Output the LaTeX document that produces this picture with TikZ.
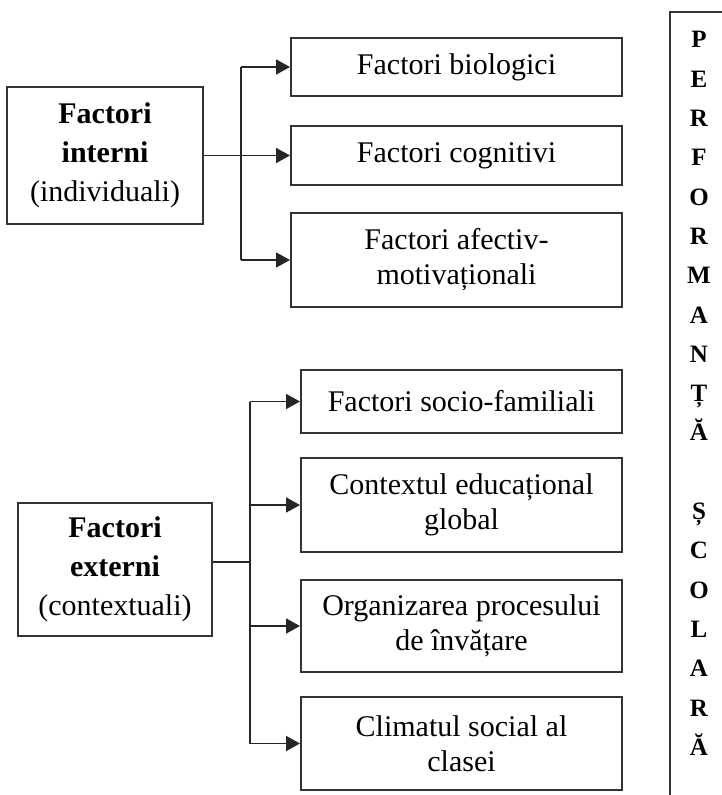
\documentclass[tikz,border=0pt]{standalone}
\usepackage{fontspec}
\setmainfont{Liberation Serif}
\usetikzlibrary{arrows.meta}
\begin{document}
\begin{tikzpicture}[x=1pt,y=-1pt,
  frame/.style={draw=black!80, line width=2pt, inner sep=0pt, align=center,
    font=\fontsize{30}{35}\selectfont},
  mainbox/.style={frame, font=\fontsize{30}{39}\selectfont},
  link/.style={draw=black!85, line width=1.8pt},
  arrowlink/.style={link, -{Triangle[length=14pt,width=15pt]}}
]
\clip (0,0) rectangle (722,795);
\fill[white] (0,0) rectangle (722,795);

% internal factors
\node[mainbox, minimum width=196pt, minimum height=137pt] (intern) at (105,155.5)
  {\textbf{Factori}\\\textbf{interni}\\(individuali)};
\node[frame, minimum width=331pt, minimum height=58pt] (b1) at (456.5,67) {Factori biologici};
\node[frame, minimum width=331pt, minimum height=59pt] (b2) at (456.5,155.5) {Factori cognitivi};
\node[frame, minimum width=331pt, minimum height=94pt] (b3) at (456.5,260) {Factori afectiv-\\motivaționali};

% external factors
\node[mainbox, minimum width=194pt, minimum height=133pt] (extern) at (115,569.5)
  {\textbf{Factori}\\\textbf{externi}\\(contextuali)};
\node[frame, minimum width=321pt, minimum height=63pt] (c1) at (461.5,401.5) {Factori socio-familiali};
\node[frame, minimum width=321pt, minimum height=94pt] (c2) at (461.5,505) {Contextul educațional\\global};
\node[frame, minimum width=321pt, minimum height=92pt] (c3) at (461.5,626) {Organizarea procesului\\de învățare};
\node[frame, minimum width=321pt, minimum height=93pt] (c4) at (461.5,743.5) {Climatul social al\\clasei};

% outcome column
\node[draw=black!80, line width=2pt, anchor=north west, minimum width=120pt,
  minimum height=820pt, inner sep=0pt] (perfbox) at (669,11) {};
\node[align=center, inner sep=0pt, font=\bfseries\fontsize{25}{39.3}\selectfont] (perf) at (699,393.5)
  {P\\E\\R\\F\\O\\R\\M\\A\\N\\Ț\\Ă\\\mbox{}\\Ș\\C\\O\\L\\A\\R\\Ă};

% branching connectors
\coordinate (ti) at (241,0);
\coordinate (te) at (250,0);
\draw[arrowlink] (intern.east) -- (b2.west);
\draw[link] (b1.west -| ti) -- (b3.west -| ti);
\draw[arrowlink] (b1.west -| ti) -- (b1.west);
\draw[arrowlink] (b3.west -| ti) -- (b3.west);

\draw[link] ([yshift=7.5pt]extern.east) -- ([yshift=7.5pt]extern.east -| te);
\draw[link] (c1.west -| te) -- (c4.west -| te);
\draw[arrowlink] (c1.west -| te) -- (c1.west);
\draw[arrowlink] (c2.west -| te) -- (c2.west);
\draw[arrowlink] (c3.west -| te) -- (c3.west);
\draw[arrowlink] (c4.west -| te) -- (c4.west);
\end{tikzpicture}
\end{document}
